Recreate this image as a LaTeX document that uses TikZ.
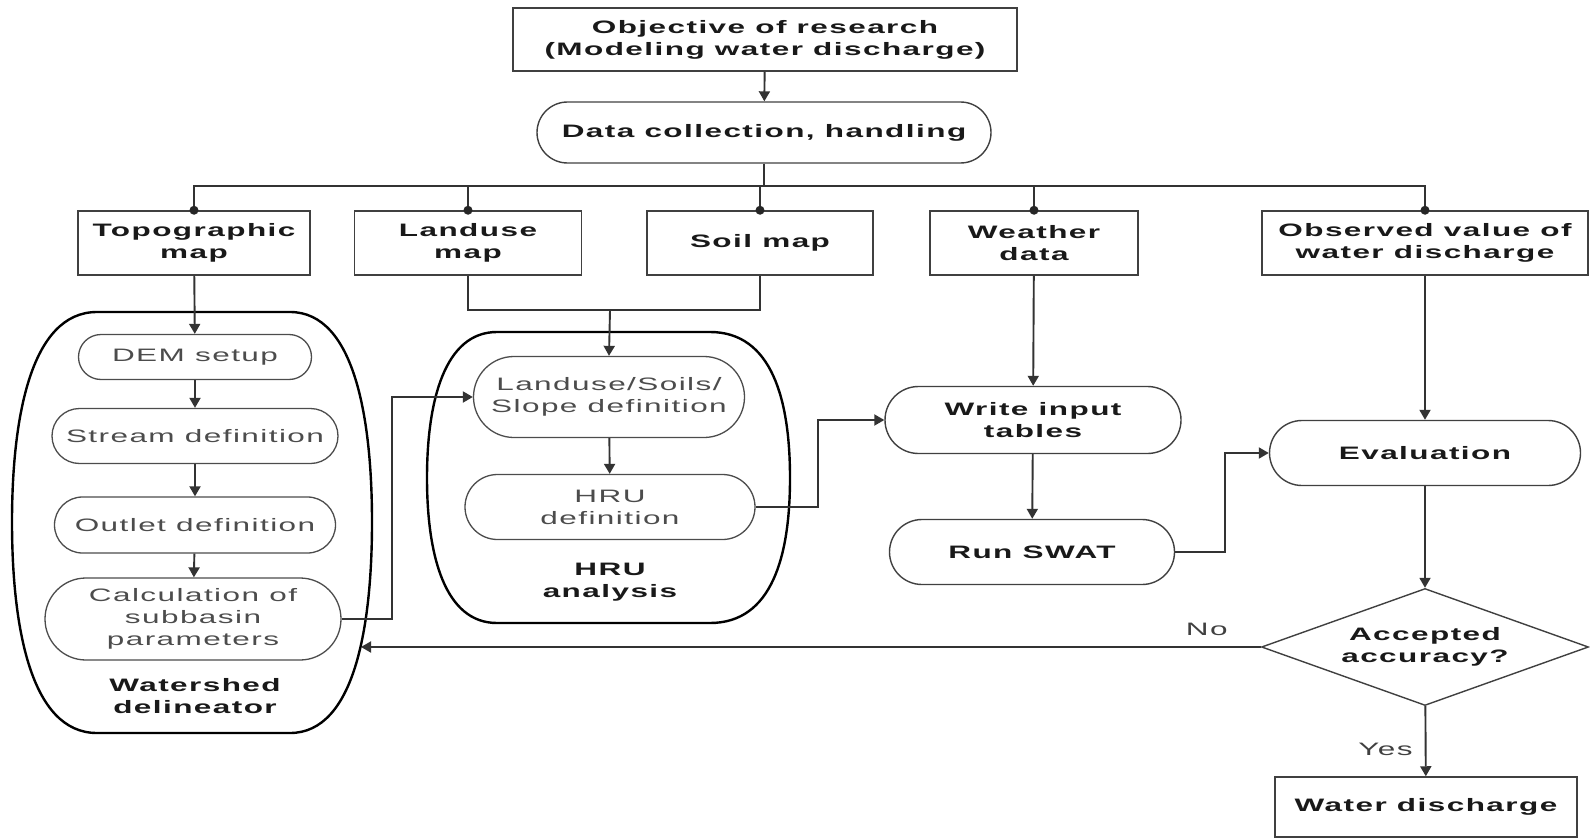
\documentclass[tikz,border=0pt]{standalone}
\usepackage{fontspec}
\setmainfont[FakeStretch=1.75,LetterSpace=8,Ligatures=NoCommon]{Liberation Sans}
\usetikzlibrary{shapes.misc,shapes.geometric,arrows.meta}
\begin{document}
\begin{tikzpicture}[x=1pt,y=-1pt,
  basefont/.style={font=\fontsize{18}{22}\selectfont\bfseries, text=black!90, align=center, inner sep=2pt},
  regfont/.style={font=\fontsize{18}{22}\selectfont, text=black!70, align=center, inner sep=2pt},
  rbox/.style={basefont, rectangle, draw=black!75, line width=1.5pt},
  pill/.style={basefont, rounded rectangle, draw=black!75, line width=1.4pt},
  ipill/.style={regfont, rounded rectangle, draw=black!70, line width=1.3pt},
  lab/.style={basefont},
  conn/.style={line width=1.9pt, draw=black!80},
  arr/.style={conn, -{Triangle[length=10pt,width=11pt]}},
  cont/.style={line width=2.4pt, draw=black},
  dot/.style={fill=black!85}
]
\useasboundingbox (0,0) rectangle (1590,840);

% containers
\draw[cont] (97,312) -- (290,312) .. controls (355,312) and (372,420) .. (372,522)
  .. controls (372,625) and (355,733) .. (290,733) -- (97,733)
  .. controls (30,733) and (12,625) .. (12,522)
  .. controls (12,420) and (30,312) .. (97,312) -- cycle;
\draw[cont] (497,332) -- (710,332) .. controls (772,332) and (790,400) .. (790,478)
  .. controls (790,556) and (772,623) .. (710,623) -- (497,623)
  .. controls (445,623) and (427,556) .. (427,478)
  .. controls (427,400) and (445,332) .. (497,332) -- cycle;
\coordinate (wsE) at (361,647);

% top
\node[rbox, minimum width=504pt, minimum height=63pt] (obj) at (765,39.5) {Objective of research\\(Modeling water discharge)};
\node[pill, minimum width=458pt, minimum height=61pt] (data) at (764,132.5) {Data collection, handling};

% row of sources
\node[rbox, minimum width=232pt, minimum height=64pt] (topo) at (194,243) {Topographic\\map};
\node[rbox, minimum width=227pt, minimum height=64pt] (land) at (468,243) {Landuse\\map};
\node[rbox, minimum width=226pt, minimum height=64pt] (soil) at (760,243) {Soil map};
\node[rbox, minimum width=208pt, minimum height=64pt] (weather) at (1034,243) {Weather\\data};
\node[rbox, minimum width=326pt, minimum height=64pt] (obs) at (1425,243) {Observed value of\\water discharge};

% watershed delineator
\node[ipill, minimum width=237pt, minimum height=45pt] (dem) at (195,357) {DEM setup};
\node[ipill, minimum width=290pt, minimum height=55pt] (stream) at (195,436) {Stream definition};
\node[ipill, minimum width=285pt, minimum height=56pt] (outlet) at (195,525) {Outlet definition};
\node[ipill, minimum width=300pt, minimum height=82pt] (calc) at (193,619) {Calculation of\\subbasin\\parameters};
\node[lab] (wslab) at (195,696) {Watershed\\delineator};

% HRU analysis
\node[ipill, minimum width=275pt, minimum height=81pt] (lss) at (609,397) {Landuse/Soils/\\Slope definition};
\node[ipill, minimum width=294pt, minimum height=65pt] (hru) at (610,507) {HRU\\definition};
\node[lab] (hrulab) at (610,582) {HRU\\analysis};

% SWAT
\node[pill, minimum width=300pt, minimum height=67pt] (write) at (1033,420) {Write input\\tables};
\node[pill, minimum width=289pt, minimum height=65pt] (run) at (1032,552) {Run SWAT};

% evaluation
\node[pill, minimum width=315pt, minimum height=65pt] (eval) at (1425,453) {Evaluation};
\node[basefont, diamond, draw=black!75, line width=1.4pt, aspect=2.8, minimum width=327pt, minimum height=117pt, inner sep=0pt] (dia) at (1425,647) {Accepted\\accuracy?};
\node[rbox, minimum width=302pt, minimum height=60pt] (wd) at (1426,807) {Water discharge};

% connectors
\draw[arr] (obj) -- (data);
\coordinate (bus) at (0,186);
\draw[conn] (data.south) -- (data.south |- bus);
\draw[conn] (topo.north) -- (topo.north |- bus) -| (obs.north);
\draw[conn] (land.north) -- (land.north |- bus);
\draw[conn] (soil.north) -- (soil.north |- bus);
\draw[conn] (weather.north) -- (weather.north |- bus);
\foreach \n in {topo,land,soil,weather,obs} \fill[dot] (\n.north) circle (4.5pt);

\draw[arr] (topo) -- (dem);
\draw[arr] (dem) -- (stream);
\draw[arr] (stream) -- (outlet);
\draw[arr] (outlet) -- (calc);

\coordinate (merge) at (610,310);
\draw[conn] (land.south) |- (merge);
\draw[conn] (soil.south) |- (merge);
\draw[arr] (merge) -- (lss.north);
\draw[arr] (lss) -- (hru);

\draw[arr] (calc.east) -- (392,619) |- (lss.west);
\draw[arr] (hru.east) -- (818,507) |- (write.west);

\draw[arr] (weather) -- (write);
\draw[arr] (write) -- (run);
\draw[arr] (run.east) -- (1225,552) |- (eval.west);

\draw[arr] (obs) -- (eval);
\draw[arr] (eval) -- (dia);
\draw[arr] (dia) -- node[regfont, text=black!75, left, xshift=-10pt, yshift=-8pt] (yes) {Yes} (wd);
\draw[arr] (dia.west) -- node[regfont, text=black!75, pos=0.06, above, yshift=8pt] (no) {No} (wsE);
\end{tikzpicture}
\end{document}
